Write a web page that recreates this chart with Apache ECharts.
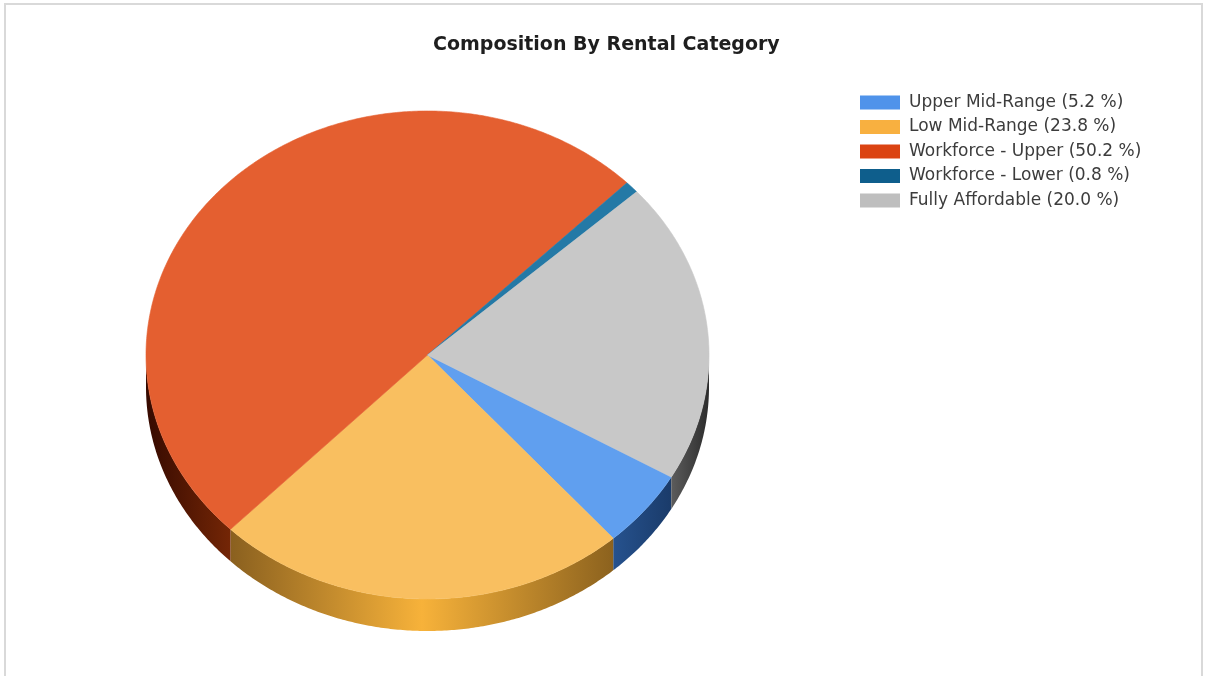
<!DOCTYPE html>
<html>
<head>
<meta charset="utf-8">
<script src="https://cdn.jsdelivr.net/npm/echarts@6/dist/echarts.min.js"></script>
<style>
html,body{margin:0;padding:0;background:#fff;}
#chart{width:1206px;height:676px;}
</style>
</head>
<body>
<div id="chart"></div>
<script>
// ---- data ----
const categories = ['Upper Mid-Range', 'Low Mid-Range', 'Workforce - Upper', 'Workforce - Lower', 'Fully Affordable'];
const shares = [5.2, 23.8, 50.2, 0.8, 20.0];

// ---- styles ----
const legendColors = ['#4f93ea', '#f8b040', '#db4312', '#0e5e8c', '#bebebe'];
const topColors = ['#609fef', '#f9bf60', '#e45f30', '#2479a6', '#c8c8c8'];
const sideStops = [
  [[0, '#26528e'], [1, '#1a3b6a']],
  [[0, '#8a601f'], [0.5, '#f7b23a'], [1, '#8c621e']],
  [[0, '#360a00'], [1, '#742606']],
  [[0, '#0c3a58'], [1, '#0c3a58']],
  [[0, '#5c5c5c'], [1, '#2c2c2c']]
];

const total = shares.reduce((a, b) => a + b, 0);
const cumulative = [];
shares.reduce((acc, v, i) => { cumulative[i] = acc; return acc + v; }, 0);

const START_DEG = 30;   // clockwise from 3 o'clock (screen)
const CX = 427.5, CY = 355, RX = 281.5, RY = 244, DEPTH = 32;

function pt(deg, dy) {
  const r = deg * Math.PI / 180;
  return [CX + RX * Math.cos(r), CY + RY * Math.sin(r) + (dy || 0)];
}
function arc(a, b, dy) {
  const pts = [];
  const n = Math.max(2, Math.ceil(Math.abs(b - a) / 0.5));
  for (let k = 0; k <= n; k++) pts.push(pt(a + (b - a) * k / n, dy));
  return pts;
}

function makeRender(i) {
  return function (params, api) {
    const v = api.value(0);
    const s = START_DEG + 360 * cumulative[i] / total;
    const e = s + 360 * v / total;
    const children = [];
    // visible front side (angles 0..180 and 360..540 in screen-clockwise terms)
    [[0, 180], [360, 540]].forEach(function (iv) {
      const a = Math.max(s, iv[0]), b = Math.min(e, iv[1]);
      if (b > a) {
        const top = arc(a, b, 0);
        const bottom = arc(b, a, DEPTH);
        children.push({
          type: 'polygon',
          shape: { points: top.concat(bottom) },
          style: {
            fill: new echarts.graphic.LinearGradient(0, 0, 1, 0,
              sideStops[i].map(st => ({ offset: st[0], color: st[1] }))),
            stroke: null
          },
          z2: 1
        });
      }
    });
    children.push({
      type: 'polygon',
      shape: { points: [[CX, CY]].concat(arc(s, e, 0)) },
      style: { fill: topColors[i], stroke: topColors[i], lineWidth: 0.6 },
      z2: 2
    });
    return { type: 'group', children: children };
  };
}

const series = categories.map(function (name, i) {
  return {
    type: 'custom',
    name: name,
    coordinateSystem: 'none',
    itemStyle: { color: legendColors[i] },
    data: [[shares[i]]],
    renderItem: makeRender(i),
    silent: true
  };
});

const chart = echarts.init(document.getElementById('chart'), null, { renderer: 'canvas' });
chart.setOption({
  backgroundColor: '#ffffff',
  animation: false,
  title: {
    text: 'Composition By Rental Category',
    left: 428,
    top: 31,
    textStyle: { fontFamily: 'DejaVu Sans, sans-serif', fontWeight: 'bold', fontSize: 19, color: '#1e1e1e' }
  },
  legend: {
    orient: 'vertical',
    left: 855,
    top: 89,
    icon: 'rect',
    itemWidth: 40,
    itemHeight: 14,
    itemGap: 7.5,
    data: categories,
    formatter: function (name) {
      const i = categories.indexOf(name);
      return name + ' (' + shares[i].toFixed(1) + ' %)';
    },
    textStyle: { fontFamily: 'DejaVu Sans, sans-serif', fontSize: 17, color: '#3c3c3c', padding: [0, 0, 0, 4] }
  },
  graphic: [{
    type: 'rect',
    shape: { x: 5, y: 4, width: 1197, height: 700 },
    style: { fill: 'none', stroke: '#d9d9d9', lineWidth: 2 },
    silent: true,
    z: -1
  }],
  series: series
});
</script>
</body>
</html>
